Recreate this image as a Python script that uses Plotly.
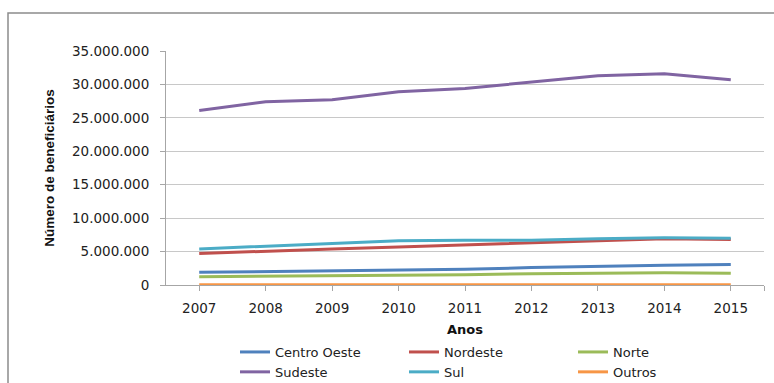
import plotly.graph_objects as go

anos = [2007, 2008, 2009, 2010, 2011, 2012, 2013, 2014, 2015]
centro_oeste = [1.90e6, 2.00e6, 2.10e6, 2.25e6, 2.35e6, 2.60e6, 2.80e6, 2.95e6, 3.05e6]
nordeste = [4.70e6, 5.10e6, 5.40e6, 5.70e6, 6.00e6, 6.40e6, 6.60e6, 6.90e6, 6.80e6]
norte = [1.25e6, 1.30e6, 1.35e6, 1.45e6, 1.55e6, 1.70e6, 1.75e6, 1.85e6, 1.75e6]
sudeste = [26.1e6, 27.4e6, 27.7e6, 28.9e6, 29.4e6, 30.4e6, 31.3e6, 31.6e6, 30.7e6]
sul = [5.40e6, 5.80e6, 6.10e6, 6.60e6, 6.70e6, 6.70e6, 6.90e6, 7.05e6, 7.00e6]
outros = [0.05e6] * 9

series = [
    ("Centro Oeste", centro_oeste, "#4F81BD"),
    ("Nordeste", nordeste, "#C0504D"),
    ("Norte", norte, "#9BBB59"),
    ("Sudeste", sudeste, "#8064A2"),
    ("Sul", sul, "#4BACC6"),
    ("Outros", outros, "#F79646"),
]

fig = go.Figure()
for name, vals, col in series:
    fig.add_trace(go.Scatter(x=anos, y=vals, name=name, mode="lines",
                             line=dict(color=col, width=3)))

W, H = 774, 383
L, R, T, B = 166, 10, 51, 98
pw, ph = W - L - R, H - T - B

def px2x(p):
    return (p - L) / pw

def px2y(p):
    return (H - B - p) / ph

fig.add_shape(type="rect", xref="paper", yref="paper",
              x0=px2x(8), x1=px2x(790), y0=px2y(400), y1=px2y(13),
              line=dict(color="#8c8c8c", width=1.5), layer="below")

tick_font = dict(family="DejaVu Sans, Verdana", size=13.5, color="#222222")

fig.update_layout(
    width=W, height=H,
    margin=dict(l=L, r=R, t=T, b=B, autoexpand=False),
    paper_bgcolor="white", plot_bgcolor="white",
    separators=",.",
    showlegend=True,
    legend=dict(orientation="h", xref="container", yref="container",
                x=235 / W, xanchor="left",
                y=1 - 337 / H, yanchor="top",
                font=dict(family="DejaVu Sans, Verdana", size=13, color="#222222"),
                entrywidth=124, entrywidthmode="pixels",
                tracegroupgap=0, itemwidth=30),
    xaxis=dict(range=[2006.5, 2015.5], tickvals=anos + [2015.5],
               ticktext=[str(a) for a in anos] + [""],
               showgrid=False, zeroline=False,
               showline=True, linecolor="#a6a6a6", linewidth=1,
               ticks="outside", ticklen=5, tickcolor="#a6a6a6",
               tickfont=tick_font, ticklabelstandoff=6,
               title=dict(text="<b>Anos</b>", standoff=10,
                          font=dict(family="DejaVu Sans, Verdana", size=13, color="#111111"))),
    yaxis=dict(range=[0, 35e6], dtick=5e6, tickformat=",.0f",
               showgrid=True, gridcolor="#c8c8c8", gridwidth=1,
               zeroline=False,
               showline=True, linecolor="#a6a6a6", linewidth=1,
               ticks="outside", ticklen=5, tickcolor="#a6a6a6",
               tickfont=tick_font, ticklabelstandoff=8,
               title=dict(text="<b>Número de beneficiários</b>", standoff=14,
                          font=dict(family="Liberation Sans Narrow, Arial Narrow, Liberation Sans", size=13.5, color="#111111"))),
)

fig.write_html("out.html")
